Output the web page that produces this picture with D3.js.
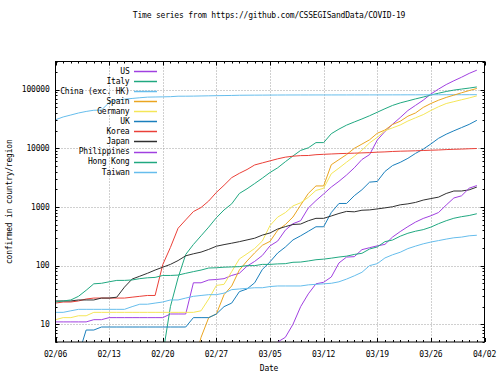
<!DOCTYPE html>
<html>
<head>
<meta charset="utf-8">
<script src="https://cdn.jsdelivr.net/npm/d3@7"></script>
<style>
  body { margin: 0; background: #fff; }
  svg { display: block; }
  text { font-family: "DejaVu Sans Mono", "Liberation Mono", monospace; font-size: 8px; letter-spacing: -0.2px; fill: #000; }
</style>
</head>
<body>
<script>
// data, one value per day from 02/06 to 04/01
var startDay = new Date(2020, 1, 6);
var endDay = new Date(2020, 3, 2);

var countries = ["US", "Italy", "China (exc. HK)", "Spain", "Germany", "UK", "Korea", "Japan", "Philippines", "Hong Kong", "Taiwan"];
var colors = ["#a040e0", "#20a880", "#66bdec", "#eaa520", "#f4e658", "#1a7fbc", "#ea4038", "#303030", "#a040e0", "#20a880", "#66bdec"];

var us = [11, 11, 11, 11, 11, 12, 12, 13, 13, 13, 13, 13, 13, 13, 13, 15, 15, 15, 51, 51, 57, 58, 60, 68,
  74, 98, 118, 149, 217, 262, 402, 518, 583, 959, 1281, 1663, 2179, 2727, 3499, 4632, 6421, 7783, 13747, 19273,
  25600, 33276, 43847, 53740, 65778, 83836, 101657, 121478, 140886, 161807, 188172, 213372];
var italy = [2, 3, 3, 3, 3, 3, 3, 3, 3, 3, 3, 3, 3, 3, 3, 20, 62, 155, 229, 322, 453, 655, 888, 1128,
  1694, 2036, 2502, 3089, 3858, 4636, 5883, 7375, 9172, 10149, 12462, 12462, 17660, 21157, 24747, 27980, 31506, 35713, 41035, 47021,
  53578, 59138, 63927, 69176, 74386, 80589, 86498, 92472, 97689, 101739, 105792, 110574];
var china = [30553, 34075, 36778, 39790, 42306, 44327, 44699, 59832, 66292, 68347, 70446, 72364, 74139, 74546, 74999, 75472, 76922, 76938, 77152, 77660, 78065, 78498, 78824, 79251,
  79826, 80026, 80151, 80271, 80422, 80573, 80652, 80699, 80735, 80757, 80785, 80793, 80801, 80827, 80849, 80880, 80894, 80928, 80967, 81008,
  81054, 81093, 81171, 81218, 81285, 81340, 81394, 81439, 81470, 81518, 81554, 81589];
var spain = [1, 1, 1, 2, 2, 2, 2, 2, 2, 2, 2, 2, 2, 2, 2, 2, 2, 2, 2, 6, 13, 15, 32, 45,
  84, 120, 165, 222, 259, 400, 500, 673, 1073, 1695, 2277, 2277, 5232, 6391, 7798, 9942, 11748, 13910, 17963, 20410,
  25374, 28768, 35136, 39885, 49515, 57786, 65719, 73235, 80110, 87956, 95923, 104118];
var germany = [12, 13, 13, 14, 14, 16, 16, 16, 16, 16, 16, 16, 16, 16, 16, 16, 16, 16, 16, 17, 27, 46, 48, 79,
  130, 159, 196, 262, 482, 670, 799, 1040, 1176, 1457, 1908, 2078, 3675, 4585, 5795, 7272, 9257, 12327, 15320, 19848,
  22213, 24873, 29056, 32986, 37323, 43938, 50871, 57695, 62095, 66885, 71808, 77872];
var uk = [2, 3, 3, 3, 8, 8, 9, 9, 9, 9, 9, 9, 9, 9, 9, 9, 9, 9, 13, 13, 13, 15, 20, 23,
  36, 40, 51, 86, 116, 164, 207, 274, 322, 384, 459, 459, 802, 1144, 1145, 1551, 1960, 2642, 2716, 4014,
  5067, 5745, 6726, 8164, 9640, 11812, 14745, 17312, 19780, 22453, 25481, 29865];
var korea = [23, 24, 24, 25, 27, 28, 28, 28, 28, 28, 29, 30, 31, 31, 104, 204, 433, 602, 833, 977, 1261, 1766, 2337, 3150,
  3736, 4335, 5186, 5621, 6088, 6593, 7041, 7314, 7478, 7513, 7755, 7869, 7979, 8086, 8162, 8236, 8320, 8413, 8565, 8652,
  8799, 8897, 8961, 9037, 9137, 9241, 9332, 9478, 9583, 9661, 9786, 9887];
var japan = [25, 25, 25, 26, 26, 26, 28, 28, 29, 43, 59, 66, 74, 84, 94, 105, 122, 147, 159, 170, 189, 214, 228, 241,
  256, 274, 293, 331, 360, 420, 461, 502, 511, 581, 639, 639, 701, 773, 839, 825, 878, 889, 924, 963,
  1007, 1086, 1128, 1193, 1307, 1387, 1468, 1693, 1866, 1866, 1953, 2178];
var philippines = [3, 3, 3, 3, 3, 3, 3, 3, 3, 3, 3, 3, 3, 3, 3, 3, 3, 3, 3, 3, 3, 3, 3, 3,
  3, 3, 3, 3, 3, 5, 6, 10, 20, 33, 49, 52, 64, 111, 140, 142, 187, 202, 217, 230,
  307, 380, 462, 552, 636, 707, 803, 1075, 1418, 1546, 2084, 2311];
var hongKong = [24, 25, 26, 30, 38, 49, 50, 53, 56, 56, 57, 60, 62, 63, 68, 68, 69, 74, 79, 84, 91, 92, 94, 95,
  96, 100, 100, 105, 105, 107, 108, 114, 115, 120, 126, 129, 134, 140, 145, 155, 162, 192, 208, 256,
  273, 317, 356, 386, 410, 453, 518, 582, 641, 682, 714, 765];
var taiwan = [16, 16, 17, 18, 18, 18, 18, 18, 18, 18, 20, 22, 22, 23, 24, 26, 26, 28, 30, 31, 32, 32, 34, 39,
  40, 41, 42, 42, 44, 45, 45, 45, 45, 47, 48, 49, 50, 53, 59, 67, 77, 100, 108, 135,
  153, 169, 195, 215, 235, 252, 267, 283, 298, 306, 322, 329];

var series = [us, italy, china, spain, germany, uk, korea, japan, philippines, hongKong, taiwan];
var yTicks = [10, 100, 1000, 10000, 100000];

// layout
var width = 500, height = 375;
var plotLeft = 55.5, plotRight = 484.5, plotTop = 61.5, plotBottom = 342;

var days = d3.timeDay.range(startDay, d3.timeDay.offset(startDay, us.length));

var x = d3.scaleTime().domain([startDay, endDay]).range([plotLeft, plotRight]);
var y = d3.scaleLog().domain([5, 300000]).range([plotBottom, plotTop]);

var svg = d3.select("body").append("svg")
  .attr("width", width)
  .attr("height", height);

svg.append("clipPath").attr("id", "plot-clip")
  .append("rect")
  .attr("x", plotLeft).attr("y", plotTop)
  .attr("width", plotRight - plotLeft).attr("height", plotBottom - plotTop);

//grid
var weeks = d3.timeDay.range(startDay, d3.timeDay.offset(endDay, 1), 7);

svg.append("g").selectAll("line")
  .data(weeks.slice(1, -1))
  .enter().append("line")
  .attr("x1", function(d) { return Math.round(x(d)) + 0.5; })
  .attr("x2", function(d) { return Math.round(x(d)) + 0.5; })
  .attr("y1", plotTop).attr("y2", plotBottom)
  .attr("stroke", "#a0a0a0")
  .attr("stroke-dasharray", "1,2");

svg.append("g").selectAll("line")
  .data(yTicks)
  .enter().append("line")
  .attr("x1", plotLeft).attr("x2", plotRight)
  .attr("y1", function(d) { return Math.round(y(d)) + 0.5; })
  .attr("y2", function(d) { return Math.round(y(d)) + 0.5; })
  .attr("stroke", "#a0a0a0")
  .attr("stroke-dasharray", "1,2");

//ticks on all four sides
var minorY = [];
[1, 10, 100, 1000, 10000, 100000].forEach(function(p) {
  for (var k = 2; k <= 9; k++) {
    var v = k * p;
    if (v >= 5 && v <= 300000) minorY.push(v);
  }
});

var ticks = svg.append("g").attr("stroke", "#000").attr("stroke-width", 1);

function yTick(v, len) {
  var yy = Math.round(y(v)) + 0.5;
  ticks.append("line").attr("x1", plotLeft).attr("x2", plotLeft + len).attr("y1", yy).attr("y2", yy);
  ticks.append("line").attr("x1", plotRight).attr("x2", plotRight - len).attr("y1", yy).attr("y2", yy);
}
yTicks.forEach(function(v) { yTick(v, 4); });
minorY.forEach(function(v) { yTick(v, 2); });

var allDays = d3.timeDay.range(startDay, d3.timeDay.offset(endDay, 1));
allDays.forEach(function(d, i) {
  var xx = Math.round(x(d)) + 0.5;
  var len = i % 7 == 0 ? 4 : 2;
  ticks.append("line").attr("x1", xx).attr("x2", xx).attr("y1", plotBottom).attr("y2", plotBottom - len);
  ticks.append("line").attr("x1", xx).attr("x2", xx).attr("y1", plotTop).attr("y2", plotTop + len);
});

//tick labels
var fmt = d3.timeFormat("%m/%d");
svg.append("g").selectAll("text")
  .data(weeks)
  .enter().append("text")
  .attr("x", function(d) { return x(d); })
  .attr("y", 357)
  .attr("text-anchor", "middle")
  .text(function(d) { return fmt(d); });

svg.append("g").selectAll("text")
  .data(yTicks)
  .enter().append("text")
  .attr("x", 49.5)
  .attr("y", function(d) { return y(d); })
  .attr("dy", "0.35em")
  .attr("text-anchor", "end")
  .text(function(d) { return d; });

//lines
var line = d3.line()
  .defined(function(d) { return d.v > 0; })
  .x(function(d) { return x(d.date); })
  .y(function(d) { return y(d.v); });

var plot = svg.append("g").attr("clip-path", "url(#plot-clip)");
series.forEach(function(s, i) {
  var pts = s.map(function(v, j) { return { date: days[j], v: v }; });
  plot.append("path")
    .attr("d", line(pts))
    .attr("fill", "none")
    .attr("stroke", colors[i])
    .attr("stroke-width", 1)
    .attr("stroke-linejoin", "round");
});

//border
svg.append("rect")
  .attr("x", plotLeft).attr("y", plotTop)
  .attr("width", plotRight - plotLeft).attr("height", plotBottom - plotTop)
  .attr("fill", "none")
  .attr("stroke", "#000");

//legend
var legend = svg.append("g");
countries.forEach(function(name, i) {
  var ly = 70.7 + i * 10.1;
  legend.append("text")
    .attr("x", 129.5)
    .attr("y", ly)
    .attr("dy", "0.35em")
    .attr("text-anchor", "end")
    .text(name);
  legend.append("line")
    .attr("x1", 134).attr("x2", 157)
    .attr("y1", Math.round(ly) + 0.5).attr("y2", Math.round(ly) + 0.5)
    .attr("stroke", colors[i])
    .attr("stroke-width", 1.5);
});

//titles
svg.append("text")
  .attr("x", 269)
  .attr("y", 17.5)
  .attr("text-anchor", "middle")
  .text("Time series from https://github.com/CSSEGISandData/COVID-19");

svg.append("text")
  .attr("x", 269)
  .attr("y", 371)
  .attr("text-anchor", "middle")
  .text("Date");

svg.append("text")
  .attr("transform", "translate(11.5," + (plotTop + plotBottom) / 2 + ") rotate(-90)")
  .attr("text-anchor", "middle")
  .text("confirmed in country/region");
</script>
</body>
</html>
